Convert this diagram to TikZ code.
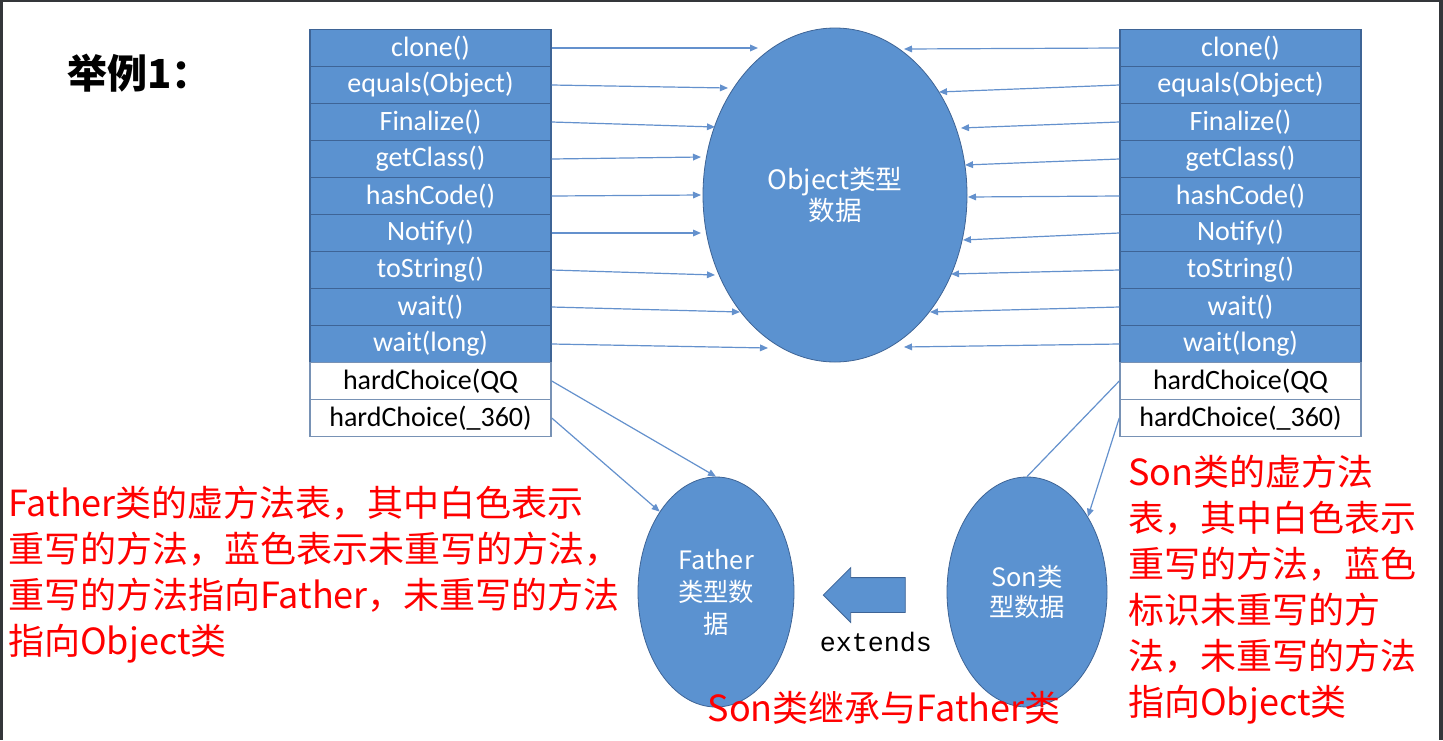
\documentclass[tikz,border=0pt]{standalone}
\usepackage{fontspec}
\setmainfont{Carlito}
\newfontfamily\cjk{Noto Sans CJK SC}
\newfontfamily\mono{Liberation Mono}
\usetikzlibrary{arrows.meta,positioning,shapes.geometric,shapes.arrows}

\definecolor{cellblue}{RGB}{91,146,208}
\definecolor{celledge}{RGB}{62,100,150}
\definecolor{wireblue}{RGB}{100,145,205}
\definecolor{notered}{RGB}{255,0,0}
\definecolor{framegray}{RGB}{52,54,58}

\begin{document}
\begin{tikzpicture}[x=0.75pt,y=-0.75pt,
    cell/.style={draw=celledge, line width=1.1pt, minimum width=180.75pt,
                 minimum height=27.75pt, inner sep=0pt, font=\fontsize{21}{24}\selectfont},
    bluecell/.style={cell, fill=cellblue, text=white},
    whitecell/.style={cell, fill=white, text=black, draw=celledge!70},
    dataell/.style={ellipse, draw=celledge, line width=0.6pt, fill=cellblue,
                    text=white, inner sep=0pt, align=center},
    ptr/.style={-{Triangle[length=6pt,width=5pt]}, wireblue, line width=0.9pt},
    wire/.style={wireblue, line width=0.9pt},
    note/.style={text=notered, font=\cjk\fontsize{27}{34.5}\selectfont,
                 align=left, inner sep=0pt},
  ]
  \useasboundingbox (0,0) rectangle (1443,740);
  \fill[framegray] (0,0) rectangle (1443,740);
  \fill[white] (3,2) rectangle (1439,740);

  % === Title ===
  \node[font=\cjk\bfseries\fontsize{30}{36}\selectfont, anchor=west, inner sep=0pt]
    (title) at (67,73) {举例1：};

  % === Method tables (Father left, Son right) ===
  \foreach \side/\cx in {L/430.5, R/1240.5} {
    \foreach \m [count=\i] in {clone(),equals(Object),Finalize(),getClass(),hashCode(),
                               Notify(),toString(),wait(),wait(long)}
      \node[bluecell] (\side\i) at (\cx,{11+37*\i}) {\m};
    \node[whitecell] (\side10) at (\cx,381) {hardChoice(QQ};
    \node[whitecell] (\side11) at (\cx,418) {hardChoice(\_360)};
  }

  % === Data ellipses ===
  \node[dataell, minimum width=198pt, minimum height=250.5pt,
        font=\cjk\fontsize{20}{23.25}\selectfont] (obj) at (835,195) {Object类型\\数据};
  \node[dataell, minimum width=117pt, minimum height=172.5pt,
        font=\cjk\fontsize{19}{24}\selectfont] (fa) at (716,592) {Father\\类型数\\据};
  \node[dataell, minimum width=120pt, minimum height=172.5pt,
        font=\cjk\fontsize{19}{23}\selectfont] (so) at (1027,592) {Son类\\型数据};

  % Pointers into Object
  \foreach \i/\ex/\ey in {1/758/48, 2/728/88, 3/715/127, 4/701/157, 5/701/195,
                          6/701/233, 7/715/275, 8/740/312, 9/768/348} {
    \coordinate (oL\i) at (\ex,\ey);
    \draw[ptr] (L\i.east) -- (oL\i);
  }
  \foreach \i/\ex/\ey in {1/904/49, 2/939/92, 3/961/128, 4/965/165, 5/968/197,
                          6/963/240, 7/951/274, 8/930/312, 9/904/347} {
    \coordinate (oR\i) at (\ex,\ey);
    \draw[ptr] (R\i.west) -- (oR\i);
  }

  % Overridden methods
  \draw[ptr] (L10.east) -- (fa.north);
  \draw[ptr] (L11.east) -- (fa.125);
  \draw[wire] (R10.west) -- (so.north);
  \draw[ptr] (R11.west) -- (so.51);

  % extends
  \node[single arrow, shape border rotate=180, fill=cellblue, draw=celledge,
        line width=0.6pt, minimum height=61.5pt, inner sep=12.75pt,
        single arrow head extend=7.5pt] (inharr) at (873,595) {};
  \node[font=\mono\fontsize{20}{24}\selectfont, inner sep=0pt] (extlbl) at (876,642) {extends};

  % === Notes ===
  \node[note, anchor=north west] (fnote) at (8,486)
    {Father类的虚方法表，其中白色表示\\重写的方法，蓝色表示未重写的方法，\\重写的方法指向Father，未重写的方法\\指向Object类};
  \node[note, anchor=north west] (snote) at (1128,455)
    {Son类的虚方法\\表，其中白色表示\\重写的方法，蓝色\\标识未重写的方\\法，未重写的方法\\指向Object类};
  \node[note] (inh) at (884,708) {Son类继承与Father类};

\end{tikzpicture}
\end{document}
